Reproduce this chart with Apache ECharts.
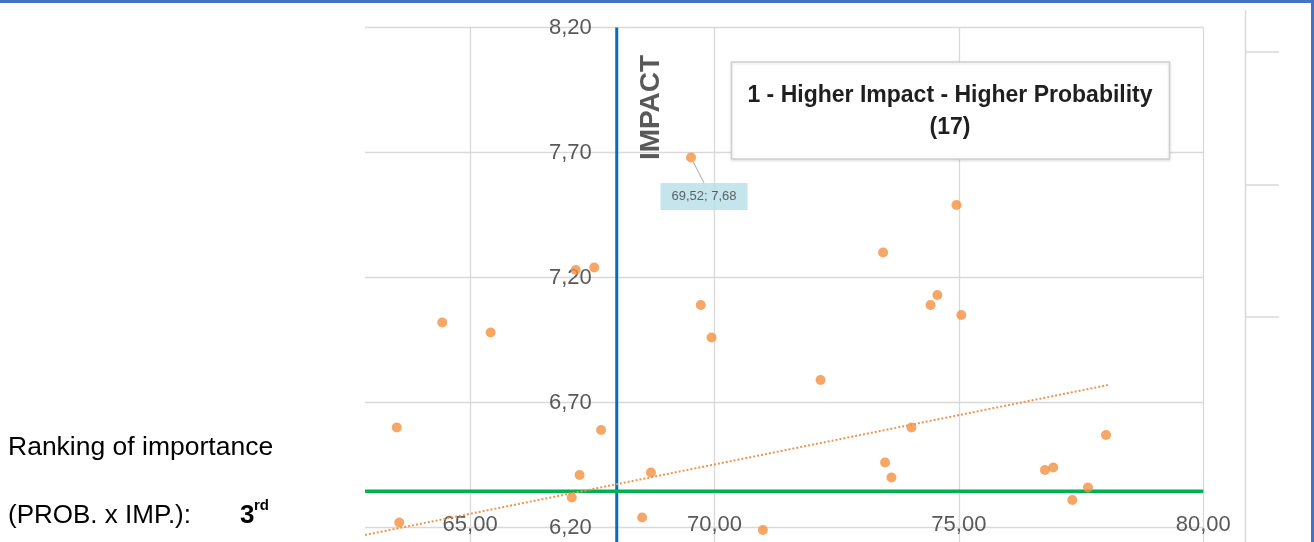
<!DOCTYPE html>
<html>
<head>
<meta charset="utf-8">
<script src="https://cdn.jsdelivr.net/npm/echarts@6/dist/echarts.min.js"></script>
<style>
  html, body { margin: 0; padding: 0; background: #ffffff; }
  #chart { width: 1314px; height: 542px; }
</style>
</head>
<body>
<div id="chart"></div>
<script>
// Risk scores: impact (x) and probability (y) for each assessed item
const impactValues = [63.50, 63.55, 64.43, 65.42, 67.16, 67.54, 67.68, 67.24, 67.08, 68.70,
                      68.52, 69.52, 69.72, 69.94, 72.17, 70.99, 73.45, 74.95, 74.42, 74.56,
                      75.05, 74.03, 73.49, 73.62, 76.76, 76.93, 77.64, 77.32, 78.01];
const probabilityValues = [6.60, 6.22, 7.02, 6.98, 7.23, 7.24, 6.59, 6.41, 6.32, 6.42,
                           6.24, 7.68, 7.09, 6.96, 6.79, 6.19, 7.30, 7.49, 7.09, 7.13,
                           7.05, 6.60, 6.46, 6.40, 6.43, 6.44, 6.36, 6.31, 6.57];

// Axis ticks
const xTicks = [65, 70, 75, 80];
const yTicks = [6.2, 6.7, 7.2, 7.7, 8.2];

// Quadrant thresholds
const impactThreshold = 68;
const probabilityThreshold = 6.345;

// Linear trend line end points
const trendImpact = [62.85, 78.05];
const trendProbability = [6.17, 6.77];

// Labelled point
const highlightIndex = 11;

// Texts
const quadrantTitle = '1 - Higher Impact - Higher Probability';
const quadrantCount = 17;
const rankingLine1 = 'Ranking of importance';
const rankingLine2 = '(PROB. x IMP.):';
const rankingValue = '3';
const rankingSuffix = 'rd';

const xMin = 62.85, xMax = 80, yMin = 6.14, yMax = 8.2;

const FONT = '"Liberation Sans", Arial, sans-serif';
const fmt = v => v.toFixed(2).replace('.', ',');

const gridLeft = 365, gridTop = 27.5, gridWidth = 838.3, gridHeight = 515;
const xLabelY = 525;

const points = impactValues.map((x, i) => {
  const item = { value: [x, probabilityValues[i]] };
  if (i === highlightIndex) {
    item.label = {
      show: true,
      position: 'inside',
      formatter: () => fmt(x) + '; ' + fmt(probabilityValues[i]),
      fontFamily: FONT,
      fontSize: 13,
      color: '#404040',
      backgroundColor: '#B7DEE8',
      padding: [7, 11, 7, 11]
    };
  }
  return item;
});

const chart = echarts.init(document.getElementById('chart'), null, { renderer: 'canvas' });

const option = {
  animation: false,
  backgroundColor: '#ffffff',
  grid: {
    left: gridLeft, top: gridTop, width: gridWidth, height: gridHeight,
    containLabel: false, outerBoundsMode: 'none'
  },
  xAxis: {
    type: 'value',
    min: xMin,
    max: xMax,
    position: 'bottom',
    offset: -((gridTop + gridHeight) - xLabelY),
    axisLine: { show: false },
    axisTick: { show: false, customValues: xTicks },
    axisLabel: {
      customValues: xTicks,
      formatter: v => fmt(v),
      fontFamily: FONT,
      fontSize: 22,
      color: '#595959',
      margin: 0,
      verticalAlign: 'middle'
    },
    splitLine: { show: true, lineStyle: { color: '#d9d9d9', width: 1.3 } }
  },
  yAxis: {
    type: 'value',
    min: yMin,
    max: yMax,
    position: 'left',
    offset: -((impactThreshold - xMin) * gridWidth / (xMax - xMin)),
    axisLine: { show: false },
    axisTick: { show: false, customValues: yTicks },
    axisLabel: {
      customValues: yTicks,
      formatter: v => fmt(v),
      fontFamily: FONT,
      fontSize: 22,
      color: '#595959',
      margin: 25
    },
    splitLine: { show: true, lineStyle: { color: '#d9d9d9', width: 1.3 } }
  },
  series: [
    {
      name: 'Impact threshold',
      type: 'line',
      data: [[impactThreshold, yMax], [impactThreshold, yMin]],
      symbol: 'none',
      lineStyle: { color: '#0070C0', width: 3 },
      z: 2,
      silent: true
    },
    {
      name: 'Probability threshold',
      type: 'line',
      data: [[xMin, probabilityThreshold], [xMax, probabilityThreshold]],
      symbol: 'none',
      lineStyle: { color: '#00B050', width: 3.5 },
      z: 3,
      silent: true
    },
    {
      name: 'Trend',
      type: 'line',
      data: trendImpact.map((x, i) => [x, trendProbability[i]]),
      symbol: 'none',
      lineStyle: { color: '#EB9550', width: 2, type: [2, 2] },
      z: 4,
      silent: true
    },
    {
      name: 'Risks',
      type: 'scatter',
      data: points,
      symbolSize: 10,
      itemStyle: { color: '#F5913F' },
      label: { show: false },
      labelLine: { show: true, lineStyle: { color: '#a6a6a6', width: 1 } },
      labelLayout: p => (p.dataIndex === highlightIndex ? { dx: 13, dy: 39 } : {}),
      emphasis: { disabled: true },
      z: 5
    }
  ]
};

chart.setOption(option);

// Annotations placed relative to the plot
const impactPx = chart.convertToPixel({ gridIndex: 0 }, [impactThreshold, yMax]);

chart.setOption({
  graphic: [
    // frame edges
    { type: 'rect', shape: { x: 0, y: 0, width: 1314, height: 3 }, style: { fill: '#4472C4' }, silent: true },
    { type: 'rect', shape: { x: 1311, y: 0, width: 3, height: 542 }, style: { fill: '#4472C4' }, silent: true },
    // neighbouring chart edge
    { type: 'line', shape: { x1: 1245.5, y1: 10, x2: 1245.5, y2: 542 }, style: { stroke: '#d9d9d9', lineWidth: 1.5 }, silent: true },
    { type: 'line', shape: { x1: 1246, y1: 52, x2: 1279, y2: 52 }, style: { stroke: '#d9d9d9', lineWidth: 1.3 }, silent: true },
    { type: 'line', shape: { x1: 1246, y1: 185, x2: 1279, y2: 185 }, style: { stroke: '#d9d9d9', lineWidth: 1.3 }, silent: true },
    { type: 'line', shape: { x1: 1246, y1: 317, x2: 1279, y2: 317 }, style: { stroke: '#d9d9d9', lineWidth: 1.3 }, silent: true },
    // IMPACT caption along the threshold line
    {
      type: 'text',
      x: impactPx[0] + 35,
      y: impactPx[1] + 80,
      rotation: Math.PI / 2,
      style: {
        text: 'IMPACT',
        font: 'bold 28px ' + FONT,
        fill: '#595959',
        align: 'center',
        verticalAlign: 'middle'
      },
      z: 10,
      silent: true
    },
    // quadrant box
    {
      type: 'group',
      z: 10,
      silent: true,
      children: [
        {
          type: 'rect',
          shape: { x: 731.5, y: 62, width: 438, height: 97 },
          style: { fill: '#ffffff', stroke: '#d0d0d0', lineWidth: 1.5, shadowBlur: 3, shadowColor: 'rgba(0,0,0,0.12)', shadowOffsetY: 1 }
        },
        {
          type: 'text',
          x: 950, y: 96,
          style: { text: quadrantTitle, font: 'bold 23px ' + FONT, fill: '#1f1f1f', align: 'center', verticalAlign: 'middle' }
        },
        {
          type: 'text',
          x: 950, y: 128,
          style: { text: '(' + quadrantCount + ')', font: 'bold 23px ' + FONT, fill: '#1f1f1f', align: 'center', verticalAlign: 'middle' }
        }
      ]
    },
    // ranking text
    {
      type: 'text', x: 8, y: 448, silent: true,
      style: { text: rankingLine1, font: '26.5px ' + FONT, fill: '#000000', align: 'left', verticalAlign: 'middle' }
    },
    {
      type: 'text', x: 8, y: 516, silent: true,
      style: { text: rankingLine2, font: '26px ' + FONT, fill: '#000000', align: 'left', verticalAlign: 'middle' }
    },
    {
      type: 'text', x: 240, y: 516, silent: true,
      style: { text: rankingValue, font: 'bold 26px ' + FONT, fill: '#000000', align: 'left', verticalAlign: 'middle' }
    },
    {
      type: 'text', x: 254, y: 506, silent: true,
      style: { text: rankingSuffix, font: 'bold 15px ' + FONT, fill: '#000000', align: 'left', verticalAlign: 'middle' }
    }
  ]
});
</script>
</body>
</html>
